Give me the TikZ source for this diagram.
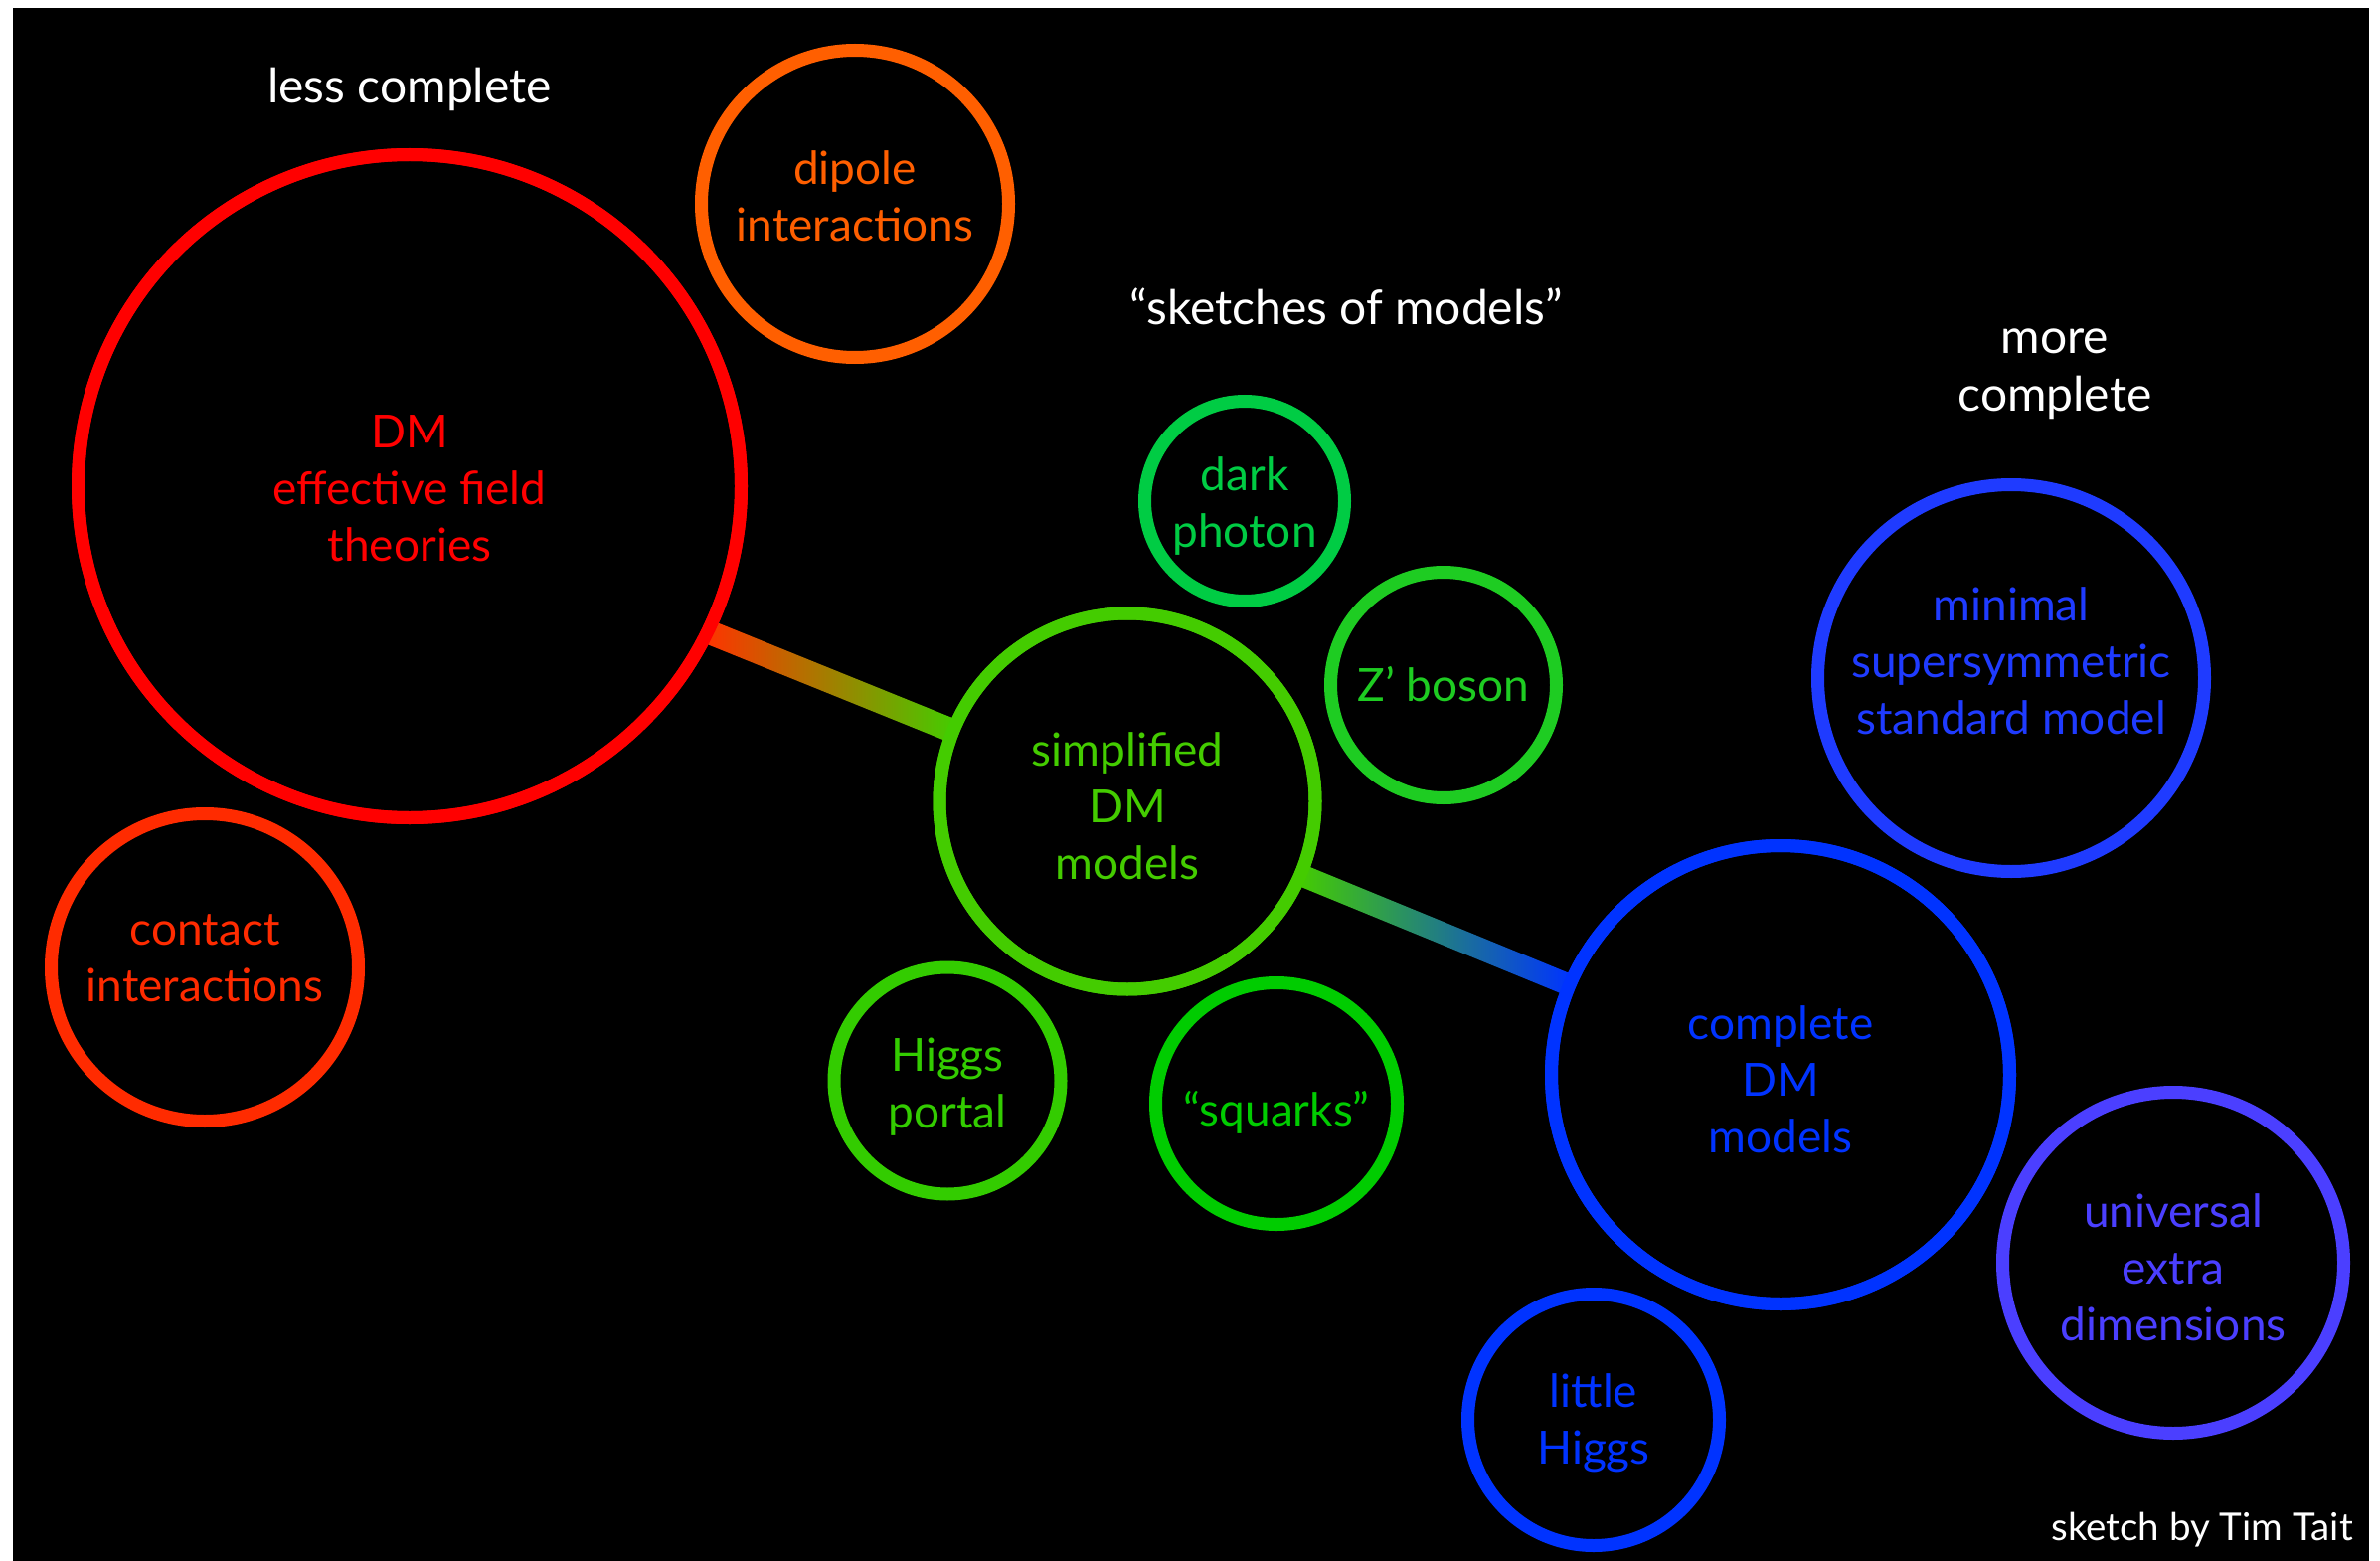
\documentclass[tikz,border=0pt]{standalone}
\usepackage{fontspec}
\setmainfont{Lato}
\usetikzlibrary{calc}
\definecolor{cEFT}{HTML}{FF0000}
\definecolor{cDip}{HTML}{FF5F00}
\definecolor{cCon}{HTML}{FF2B00}
\definecolor{cSim}{HTML}{44CC00}
\definecolor{cDark}{HTML}{00CC44}
\definecolor{cZp}{HTML}{1ECC22}
\definecolor{cHig}{HTML}{33CC00}
\definecolor{cSq}{HTML}{00CC00}
\definecolor{cCom}{HTML}{0033FF}
\definecolor{cMin}{HTML}{1F3BFF}
\definecolor{cUED}{HTML}{4B3FFF}
\definecolor{cBarA}{HTML}{FF3300}
\tikzset{
  bubble/.style={circle, draw=#1, line width=13pt, inner sep=0pt},
  lbl/.style={text=#1, align=center, inner sep=0pt, font=\fontsize{46}{57}\selectfont},
  heading/.style={text=white, align=center, font=\fontsize{48}{58}\selectfont, inner sep=0pt},
  credit/.style={text=white, font=\fontsize{38.5}{44}\selectfont, inner sep=0pt}
}
\begin{document}
\begin{tikzpicture}[x=1pt, y=-1pt]
\useasboundingbox (0,0) rectangle (2394,1570);
\fill[black] (13,8) rectangle (2383,1570);

% bubbles
\node[bubble=cEFT, minimum size=667pt] (eft) at (412,489) {};
\node[bubble=cDip, minimum size=309pt] (dip) at (860,205) {};
\node[bubble=cCon, minimum size=309pt] (con) at (206,973) {};
\node[bubble=cSim, minimum size=378pt] (sim) at (1134,806) {};
\node[bubble=cDark, minimum size=201pt] (dark) at (1252,504) {};
\node[bubble=cZp, minimum size=227pt] (zp) at (1452,689) {};
\node[bubble=cHig, minimum size=228pt] (hig) at (953,1087) {};
\node[bubble=cSq, minimum size=243pt] (sq) at (1284,1110) {};
\node[bubble=cCom, minimum size=461pt] (com) at (1791,1081) {};
\node[bubble=cMin, minimum size=389pt] (mssm) at (2023,682) {};
\node[bubble=cUED, minimum size=343pt] (ued) at (2186,1270) {};
\node[bubble=cCom, minimum size=253pt] (lh) at (1603,1428) {};

% bubble texts
\node[lbl=cEFT] (eft-t) at ($(eft.center)+(0,2)$) {DM\\effective field\\theories};
\node[lbl=cDip] (dip-t) at ($(dip.center)+(0,-8)$) {dipole\\interactions};
\node[lbl=cCon] (con-t) at ($(con.center)+(0,-9)$) {contact\\interactions};
\node[lbl=cSim] (sim-t) at ($(sim.center)+(0,5)$) {simplified\\DM\\models};
\node[lbl=cDark] (dark-t) at ($(dark.center)+(0,5)$) {dark\\photon};
\node[lbl=cZp] (zp-t) at ($(zp.center)+(0,-1)$) {Z’ boson};
\node[lbl=cHig] (hig-t) at ($(hig.center)+(0,6)$) {Higgs\\portal};
\node[lbl=cSq] (sq-t) at ($(sq.center)+(0,9)$) {“squarks”};
\node[lbl=cCom] (com-t) at ($(com.center)+(0,5)$) {complete\\DM\\models};
\node[lbl=cMin] (mssm-t) at ($(mssm.center)+(0,-17)$) {minimal\\supersymmetric\\standard model};
\node[lbl=cUED] (ued-t) at ($(ued.center)+(0,5)$) {universal\\extra\\dimensions};
\node[lbl=cCom] (lh-t) at ($(lh.center)+(0,3)$) {little\\Higgs};

% gradient connectors
\coordinate (a1) at ($(eft.center)!0.985!(eft.-26)$);
\coordinate (b1) at ($(sim.center)!0.98!(sim.158.5)$);
\coordinate (a2) at ($(sim.center)!0.98!(sim.-23.8)$);
\coordinate (b2) at ($(com.center)!0.985!(com.157.5)$);
\shade[left color=cBarA, right color=cSim]
  ($(a1)!12pt!90:(b1)$) -- ($(a1)!12pt!-90:(b1)$) -- ($(b1)!12pt!90:(a1)$) -- ($(b1)!12pt!-90:(a1)$) -- cycle;
\shade[left color=cSim, right color=cCom]
  ($(a2)!11pt!90:(b2)$) -- ($(a2)!11pt!-90:(b2)$) -- ($(b2)!11pt!90:(a2)$) -- ($(b2)!11pt!-90:(a2)$) -- cycle;
% strokes of the connected bubbles over the bar ends
\draw[cEFT, line width=13pt] (eft.center) circle[radius=333.5pt];
\draw[cSim, line width=13pt] (sim.center) circle[radius=189pt];
\draw[cCom, line width=13pt] (com.center) circle[radius=230.5pt];

% headings
\node[heading] (less) at (412,90) {less complete};
\node[heading] (sketches) at (1354,308) {“sketches of models”};
\node[heading] (more) at (2067,376) {more\\complete};
\node[credit, anchor=east] (credit) at (2367,1539) {sketch by Tim Tait};
\end{tikzpicture}
\end{document}
